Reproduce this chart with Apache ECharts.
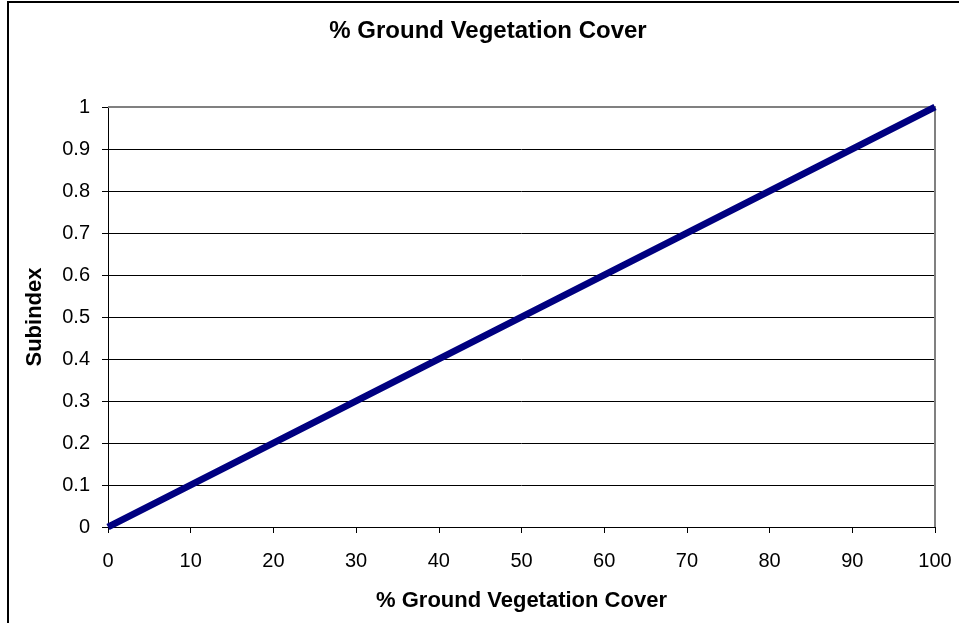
<!DOCTYPE html>
<html>
<head>
<meta charset="utf-8">
<script src="https://cdn.jsdelivr.net/npm/echarts@6/dist/echarts.min.js"></script>
<style>
  html, body { margin: 0; padding: 0; background: #fff; }
  #chart { width: 959px; height: 623px; }
</style>
</head>
<body>
<div id="chart"></div>
<script>
'use strict';
// values
const coverValues = [0, 10, 20, 30, 40, 50, 60, 70, 80, 90, 100];
const subindexValues = [0, 0.1, 0.2, 0.3, 0.4, 0.5, 0.6, 0.7, 0.8, 0.9, 1];

const chartTitle = '% Ground Vegetation Cover';
const xName = '% Ground Vegetation Cover';
const yName = 'Subindex';

var FONT = '"Liberation Sans", Arial, sans-serif';

var seriesData = [];
for (let n = 0; n < coverValues.length; n++) {
  seriesData.push([coverValues[n], subindexValues[n]]);
}

var myChart = echarts.init(document.getElementById('chart'), null, {renderer: 'canvas'});

var option = {
  backgroundColor: '#fff',
  animation: false,
  title: {
    text: chartTitle,
    left: 483,
    textAlign: 'center',
    top: 14,
    textStyle: {fontFamily: FONT, fontSize: 24, fontWeight: 'bold', color: '#000'}
  },
  grid: {left: 108, right: 24, top: 107, bottom: 96, containLabel: false},
  xAxis: {
    type: 'value',
    min: 0,
    max: 100,
    interval: 10,
    name: xName,
    nameLocation: 'middle',
    nameGap: 63,
    nameTextStyle: {fontFamily: FONT, fontSize: 22, fontWeight: 'bold', color: '#000'},
    axisLine: {show: true, lineStyle: {color: '#000', width: 1}},
    axisTick: {show: true, length: 6, lineStyle: {color: '#000'}},
    axisLabel: {margin: 24, fontFamily: FONT, fontSize: 20, color: '#000'},
    splitLine: {show: false}
  },
  yAxis: {
    type: 'value',
    min: 0,
    max: 1,
    interval: 0.1,
    name: yName,
    nameLocation: 'middle',
    nameRotate: 90,
    nameGap: 62,
    nameTextStyle: {fontFamily: FONT, fontSize: 22, fontWeight: 'bold', color: '#000'},
    axisLine: {show: true, lineStyle: {color: '#000', width: 1}},
    axisTick: {show: true, length: 6, lineStyle: {color: '#000'}},
    axisLabel: {margin: 18, fontFamily: FONT, fontSize: 20, color: '#000'},
    splitLine: {show: true, lineStyle: {color: '#000', width: 1}}
  },
  graphic: [
    // outer chart frame (right and bottom edges fall outside the window)
    {type: 'rect', shape: {x: 8, y: 2, width: 1000, height: 700},
     style: {fill: null, stroke: '#000', lineWidth: 2}, silent: true, z: 100},
    // grey plot border on top and right
    {type: 'polyline', shape: {points: [[108, 107], [935, 107], [935, 527]]},
     style: {stroke: '#808080', lineWidth: 2, fill: null}, silent: true, z: 1}
  ],
  series: [{
    type: 'line',
    data: seriesData,
    showSymbol: false,
    lineStyle: {color: '#000080', width: 7},
    z: 5
  }]
};

myChart.setOption(option, true);
</script>
</body>
</html>
